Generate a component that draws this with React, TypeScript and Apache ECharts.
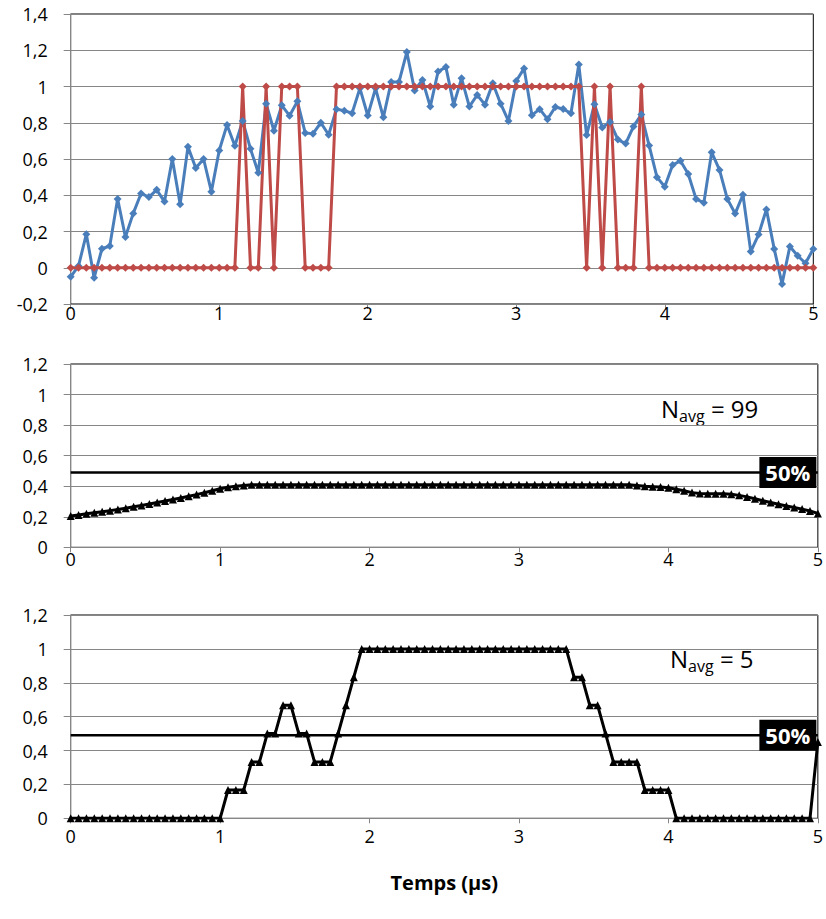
import React, { useEffect, useRef } from "react";
import * as echarts from "echarts";

// Sample times: 96 samples spanning 0..5 µs
const T_END = 5;
const X_TICKS = [0, 1, 2, 3, 4, 5];

// Panel 1: raw signal (blue) and thresholded signal (red)
const rawSignal = [
  -0.05, 0.01, 0.185, -0.055, 0.105, 0.12, 0.38, 0.17, 0.3, 0.41,
  0.39, 0.43, 0.365, 0.6, 0.35, 0.667, 0.55, 0.6, 0.42, 0.647,
  0.788, 0.673, 0.81, 0.656, 0.524, 0.905, 0.756, 0.896, 0.839, 0.918,
  0.744, 0.74, 0.8, 0.734, 0.875, 0.866, 0.853, 0.99, 0.84, 0.99,
  0.83, 1.025, 1.025, 1.19, 0.978, 1.036, 0.889, 1.083, 1.107, 0.9,
  1.045, 0.889, 0.953, 0.9, 1.018, 0.905, 0.81, 1.03, 1.1, 0.842,
  0.875, 0.82, 0.887, 0.876, 0.852, 1.122, 0.732, 0.902, 0.774, 0.804,
  0.707, 0.685, 0.78, 0.845, 0.674, 0.5, 0.447, 0.567, 0.59, 0.517,
  0.38, 0.358, 0.637, 0.54, 0.38, 0.299, 0.403, 0.089, 0.183, 0.322,
  0.104, -0.089, 0.117, 0.066, 0.025, 0.104,
];
const binarySignal = [
  0, 0, 0, 0, 0, 0, 0, 0, 0, 0, 0, 0, 0, 0, 0, 0, 0, 0, 0, 0, 0, 0,
  1, 0, 0, 1, 0, 1, 1, 1, 0, 0, 0, 0,
  1, 1, 1, 1, 1, 1, 1, 1, 1, 1, 1, 1, 1, 1, 1, 1,
  1, 1, 1, 1, 1, 1, 1, 1, 1, 1, 1, 1, 1, 1, 1, 1,
  0, 1, 0, 1, 0, 0, 0, 1,
  0, 0, 0, 0, 0, 0, 0, 0, 0, 0, 0, 0, 0, 0, 0, 0, 0, 0, 0, 0, 0, 0,
];
// Panel 2: N_avg = 99
const avg99 = [
  0.205, 0.212, 0.219, 0.226, 0.233, 0.24, 0.248, 0.256, 0.265, 0.274,
  0.283, 0.293, 0.303, 0.313, 0.323, 0.334, 0.345, 0.357, 0.37, 0.383,
  0.393, 0.4, 0.405, 0.409,
  0.41, 0.41, 0.41, 0.41, 0.41, 0.41, 0.41, 0.41, 0.41, 0.41, 0.41, 0.41,
  0.41, 0.41, 0.41, 0.41, 0.41, 0.41, 0.41, 0.41, 0.41, 0.41, 0.41, 0.41,
  0.41, 0.41, 0.41, 0.41, 0.41, 0.41, 0.41, 0.41, 0.41, 0.41, 0.41, 0.41,
  0.41, 0.41, 0.41, 0.41, 0.41, 0.41, 0.41, 0.41, 0.41, 0.41, 0.41, 0.41,
  0.405, 0.4, 0.397, 0.394, 0.39, 0.38, 0.37, 0.358, 0.352, 0.35,
  0.35, 0.35, 0.347, 0.34, 0.33, 0.318, 0.305, 0.293, 0.282, 0.27,
  0.26, 0.25, 0.238, 0.222,
];
// Panel 3: N_avg = 5
const avg5 = [
  0, 0, 0, 0, 0, 0, 0, 0, 0, 0, 0, 0, 0, 0, 0, 0, 0, 0, 0, 0,
  0.167, 0.167, 0.167, 0.333, 0.333, 0.5, 0.5, 0.667, 0.667, 0.5, 0.5,
  0.333, 0.333, 0.333, 0.5, 0.667, 0.833,
  1, 1, 1, 1, 1, 1, 1, 1, 1, 1, 1, 1, 1, 1, 1, 1, 1, 1, 1, 1, 1, 1, 1, 1, 1, 1, 1,
  0.833, 0.833, 0.667, 0.667, 0.5, 0.333, 0.333, 0.333, 0.333,
  0.167, 0.167, 0.167, 0.167,
  0, 0, 0, 0, 0, 0, 0, 0, 0, 0, 0, 0, 0, 0, 0, 0, 0, 0,
  0.45,
];
const THRESHOLD = 0.49;
const THRESHOLD_LABEL = "50%";
const NAVG_LABELS = ["99", "5"];

const FONT = "'Open Sans', sans-serif";
const GRID_GRAY = "#868686";

function toPairs(vals: number[]) {
  return vals.map((v, i) => [(i * T_END) / (vals.length - 1), v]);
}
function fmt(v: number) {
  return String(Math.round(v * 10) / 10).replace(".", ",");
}

export default function App() {
  const ref = useRef<HTMLDivElement>(null);
  useEffect(() => {
    if (!ref.current) return;
    const chart = echarts.init(ref.current, null, { renderer: "svg" });
    const grids = [
      { left: 70.7, top: 14, width: 742.6, height: 290 },
      { left: 70.7, top: 364, width: 750, height: 183.3 },
      { left: 70.7, top: 615, width: 750, height: 203.3 },
    ].map((g) => ({ ...g, show: true, borderColor: "#000", borderWidth: 1, backgroundColor: "transparent" }));

    const xMargins = [0, 3, 9];
    const xAxis = [0, 1, 2].map((gi) => ({
      gridIndex: gi,
      type: "value",
      min: X_TICKS[0],
      max: X_TICKS[X_TICKS.length - 1],
      interval: 1,
      axisLine: { show: true, onZero: false, lineStyle: { color: GRID_GRAY, width: 1 } },
      axisTick: { show: true, length: 5, lineStyle: { color: GRID_GRAY } },
      axisLabel: { fontSize: 18, color: "#000", fontFamily: FONT, margin: xMargins[gi] },
      splitLine: { show: false },
      ...(gi === 2
        ? {
            name: "Temps (µs)",
            nameLocation: "middle",
            nameGap: 54,
            nameTextStyle: { fontSize: 20, fontWeight: "bold", color: "#000", fontFamily: FONT },
          }
        : {}),
    }));
    const yRanges = [
      [-0.2, 1.4],
      [0, 1.2],
      [0, 1.2],
    ];
    const yAxis = yRanges.map((r, gi) => ({
      gridIndex: gi,
      type: "value",
      min: r[0],
      max: r[1],
      interval: 0.2,
      axisLine: { show: true, lineStyle: { color: GRID_GRAY, width: 1 } },
      axisTick: { show: true, length: 7, lineStyle: { color: GRID_GRAY } },
      axisLabel: { fontSize: 18, color: "#000", fontFamily: FONT, margin: 23, formatter: fmt },
      splitLine: { show: true, lineStyle: { color: GRID_GRAY, width: 1 } },
    }));

    const thresholdSeries = (gi: number) => ({
      type: "line",
      xAxisIndex: gi,
      yAxisIndex: gi,
      symbol: "none",
      lineStyle: { color: "#000", width: 2.5 },
      z: 4,
      data: [
        [0, THRESHOLD],
        [T_END, THRESHOLD],
      ],
    });
    const thresholdLabel = (gi: number) => ({
      type: "scatter",
      xAxisIndex: gi,
      yAxisIndex: gi,
      symbolSize: 1,
      itemStyle: { color: "transparent", opacity: 1 },
      z: 6,
      label: {
        show: true,
        position: "left",
        distance: 1,
        formatter: THRESHOLD_LABEL,
        color: "#fff",
        backgroundColor: "#000",
        fontWeight: "bold",
        fontSize: 22,
        fontFamily: FONT,
        padding: [6, 6, 3, 6],
      },
      data: [[T_END, THRESHOLD]],
    });

    const avgLine = (gi: number, vals: number[]) => ({
      type: "line",
      xAxisIndex: gi,
      yAxisIndex: gi,
      symbol: "triangle",
      symbolSize: 8,
      lineStyle: { color: "#000", width: 3 },
      itemStyle: { color: "#000" },
      z: 3,
      data: toPairs(vals),
    });

    const navgText = (x: number, y: number, n: string) => ({
      type: "text",
      x,
      y,
      style: {
        text: `{n|N}{s|avg}{n| = ${n}}`,
        fill: "#000",
        rich: {
          n: { fontSize: 24, fontFamily: FONT, lineHeight: 28, verticalAlign: "top" },
          s: { fontSize: 16, fontFamily: FONT, lineHeight: 19, padding: [14, 0, 0, 0], verticalAlign: "bottom" },
        },
      },
    });

    chart.setOption({
      animation: false,
      backgroundColor: "#fff",
      grid: grids,
      xAxis,
      yAxis,
      series: [
        {
          type: "line",
          xAxisIndex: 0,
          yAxisIndex: 0,
          symbol: "diamond",
          symbolSize: 8,
          lineStyle: { color: "#4A7EBB", width: 3 },
          itemStyle: { color: "#4A7EBB" },
          data: toPairs(rawSignal),
        },
        {
          type: "line",
          xAxisIndex: 0,
          yAxisIndex: 0,
          symbol: "diamond",
          symbolSize: 8,
          lineStyle: { color: "#BE4B48", width: 3 },
          itemStyle: { color: "#BE4B48" },
          data: toPairs(binarySignal),
        },
        avgLine(1, avg99),
        thresholdSeries(1),
        thresholdLabel(1),
        avgLine(2, avg5),
        thresholdSeries(2),
        thresholdLabel(2),
      ],
      graphic: [navgText(661, 396, NAVG_LABELS[0]), navgText(670, 646, NAVG_LABELS[1])],
    });
    return () => chart.dispose();
  }, []);
  return <div ref={ref} style={{ position: "absolute", left: 0, top: 0, width: 826, height: 919 }} />;
}
